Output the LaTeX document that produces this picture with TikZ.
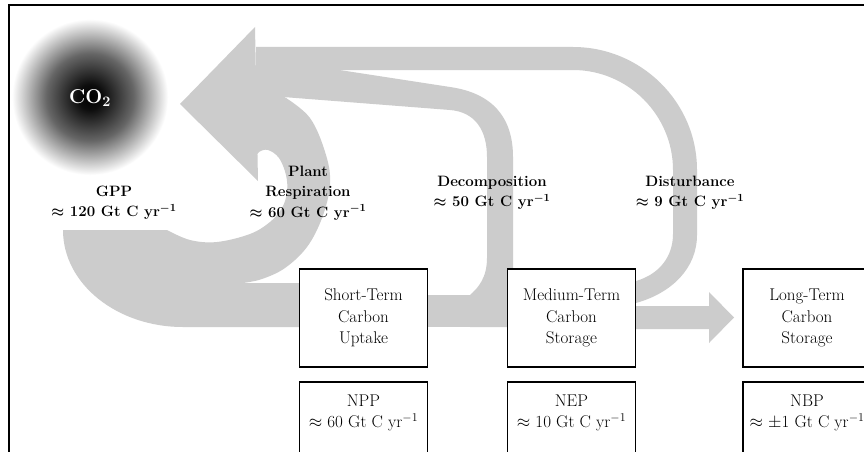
\documentclass[tikz,border=0pt]{standalone}
\usepackage{fontspec}
\definecolor{flowgray}{RGB}{204,204,204}
\pgfdeclareradialshading{coblob}{\pgfpoint{0bp}{0bp}}{color(0bp)=(black); color(4bp)=(black!95); color(14bp)=(black!60); color(25bp)=(white); color(50bp)=(white)}
\tikzset{
  flow/.style={fill=flowgray, draw=none},
  box/.style={draw=black, line width=1.6pt, fill=white, minimum width=128pt, minimum height=98pt, inner sep=0pt, align=center, font=\fontsize{17}{21.5}\selectfont},
  lowbox/.style={draw=black, line width=1.6pt, fill=white, minimum width=128pt, minimum height=80pt, anchor=north, inner sep=0pt},
  boxtext/.style={align=center, inner sep=0pt, font=\fontsize{17}{20.5}\selectfont},
  lbl/.style={align=center, inner sep=0pt, font=\fontsize{15}{20.5}\selectfont\bfseries\boldmath},
}
\begin{document}
\begin{tikzpicture}[x=1pt,y=-1pt]
\useasboundingbox (0,0) rectangle (864,452);
\clip (0,0) rectangle (864,452);
\fill[white] (0,0) rectangle (864,452);
% CO2 cloud
\shade[shading=coblob] (90,97) circle[radius=78pt];
\node[font=\fontsize{20}{24}\selectfont\bfseries\boldmath, text=white, inner sep=0pt] (co2) at (90,98) {CO$_2$};
% GPP band and plant respiration loop
\fill[flow] (63,230) .. controls (63,284) and (117,327) .. (183,327) -- (312,327) -- (312,283) -- (243,283)
  -- plot[smooth, tension=0.6] coordinates {(243,283) (262,279) (285,268) (307,247) (322,218) (330,185) (326,155) (310,118) (283,96)}
  -- (256,96) -- (256,158)
  -- plot[smooth, tension=0.6] coordinates {(256,158) (259,152) (268,150) (279,158) (286,175) (287,192) (282,208) (270,222) (250,234) (217,242) (190,240) (167,230)}
  -- cycle;
% big return arrow head
\fill[flow] (180,104) -- (255,27) -- (258,181) -- cycle;
% disturbance loop
\fill[flow] (256,47) -- (573,47) .. controls (641,47) and (697,102) .. (697,170) -- (697,235)
  .. controls (697,268) and (672,293) .. (636,303) -- (636,281)
  .. controls (660,274) and (673,256) .. (673,234) -- (673,170)
  .. controls (673,115) and (628,70) .. (573,70) -- (256,70) -- cycle;
% decomposition loop
\fill[flow] (256,69) -- (333,69) -- (450,87) .. controls (492,93) and (513,117) .. (513,157) -- (513,327) -- (470,327) -- (470,295)
  .. controls (478,288) and (487,278) .. (487,258) -- (487,157)
  .. controls (487,130) and (475,112) .. (450,110) -- (283,97) -- (256,97) -- cycle;
% band between short and medium term
\fill[flow] (420,295) -- (515,295) -- (515,327) -- (420,327) -- cycle;
% arrow into long-term storage
\fill[flow] (630,306) -- (709,306) -- (709,292) -- (734,317.5) -- (709,343) -- (709,329) -- (630,329) -- cycle;
% boxes
\node[box] (short) at (363.5,318) {Short-Term\\Carbon\\Uptake};
\node[box] (medium) at (571.5,318) {Medium-Term\\Carbon\\Storage};
\node[box] (long) at (807,318) {Long-Term\\Carbon\\Storage};
\node[lowbox] (npp) at (363.5,381) {};
\node[lowbox] (nep) at (571.5,381) {};
\node[lowbox] (nbp) at (807,381) {};
\node[boxtext] (npptext) at (363.5,413) {NPP\\$\approx$ 60 Gt C yr$^{-1}$};
\node[boxtext] (neptext) at (571.5,413) {NEP\\$\approx$ 10 Gt C yr$^{-1}$};
\node[boxtext] (nbptext) at (807,413) {NBP\\$\approx$ $\pm$1 Gt C yr$^{-1}$};
% flow labels
\node[lbl] (gpp) at (114,203) {GPP\\$\approx$ 120 Gt C yr$^{-1}$};
\node[lbl] (resp) at (308,193) {Plant\\Respiration\\$\approx$ 60 Gt C yr$^{-1}$};
\node[lbl] (decomp) at (492,193) {Decomposition\\$\approx$ 50 Gt C yr$^{-1}$};
\node[lbl] (disturb) at (690,193) {Disturbance\\$\approx$ 9 Gt C yr$^{-1}$};
% frame
\draw[line width=1.6pt] (9,5) rectangle (900,500);
\end{tikzpicture}
\end{document}
